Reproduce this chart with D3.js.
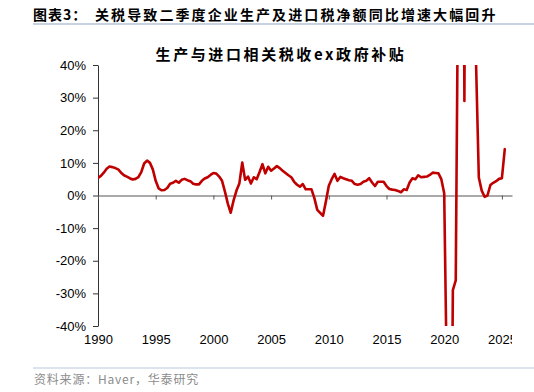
<!DOCTYPE html>
<html><head><meta charset="utf-8">
<script src="https://cdn.jsdelivr.net/npm/d3@7"></script>
<style>body{margin:0;background:#fff}</style>
</head><body><svg id="c" width="534" height="392"></svg>
<script>
const headerLabel = "图表3：";
const headerText = "关税导致二季度企业生产及进口税净额同比增速大幅回升";
const chartTitle = "生产与进口相关税收ex政府补贴";
const sourceText = "资料来源：Haver，华泰研究";
const startYear = 1990;
// quarterly YoY %, 1990Q1 .. 2025Q2
const values = [
  5.4, 6.0, 7.0, 8.2,
  8.9, 8.7, 8.4, 8.0,
  7.0, 6.2, 5.8, 5.3,
  4.9, 5.1, 5.6, 7.2,
  9.8, 10.7, 10.0, 8.0,
  4.5, 2.2, 1.6, 1.7,
  2.3, 3.6, 3.9, 4.5,
  3.9, 4.8, 5.1, 4.7,
  4.4, 3.6, 3.4, 3.4,
  4.5, 5.2, 5.6, 6.3,
  6.9, 6.7, 5.8, 4.5,
  1.2, -2.5, -5.3, -1.5,
  1.5, 3.7, 10.1, 4.8,
  5.8, 3.7, 5.6, 5.0,
  7.2, 9.6, 6.8, 8.8,
  7.6, 8.3, 9.0, 8.4,
  7.6, 6.9, 6.2, 5.6,
  4.2, 3.3, 2.7, 3.5,
  1.9, 1.9, 1.9, -0.8,
  -4.4, -5.3, -6.2, -1.8,
  3.0, 5.0, 6.6, 4.5,
  5.7, 5.3, 5.0, 4.7,
  4.5, 3.5, 3.3, 3.5,
  4.2, 4.5, 5.3, 4.0,
  2.9, 4.2, 4.2, 4.2,
  2.9, 2.0, 1.8, 1.7,
  1.4, 1.0, 1.9, 1.7,
  4.0, 5.3, 5.0, 6.2,
  5.6, 5.7, 5.8, 6.3,
  7.0, 6.9, 6.8, 5.0,
  0.7, -62, -150, -29,
  -26, 90, 250, 29,
  250, 150, 120, 42,
  5.5, 1.5, -0.4, 0.0,
  3.2, 3.9, 4.4, 5.1,
  5.3, 14.2
];
const xTickYears = [1990, 1995, 2000, 2005, 2010, 2015, 2020, 2025];
const yTickValues = [-40, -30, -20, -10, 0, 10, 20, 30, 40];

const svg = d3.select("#c");
const W = 534, H = 392;
const plot = {left: 98, right: 512, top: 65, bottom: 326};
const x = d3.scaleLinear().domain([1990, 2025.875]).range([plot.left, plot.right]);
const y = d3.scaleLinear().domain([-40, 40]).range([plot.bottom, plot.top]);
const numFont = "'Liberation Sans', Arial, sans-serif";
const cjkFont = "'Noto Sans CJK SC', sans-serif";

svg.append("rect").attr("width", W).attr("height", H).attr("fill", "#fff");

// header
const hdr = svg.append("text").attr("y", 20).attr("font-family", cjkFont)
  .attr("font-weight", "bold").attr("font-size", 14).attr("fill", "#000");
hdr.append("tspan").attr("x", 33).attr("letter-spacing", 1).text(headerLabel);
hdr.append("tspan").attr("x", 95).attr("letter-spacing", 2.1).text(headerText);
svg.append("line").attr("x1", 33).attr("x2", W).attr("y1", 24).attr("y2", 24)
  .attr("stroke", "#b3c3d5").attr("stroke-width", 1.5);

// chart title
svg.append("text").attr("x", 281).attr("y", 60).attr("text-anchor", "middle")
  .attr("font-family", cjkFont).attr("font-weight", "bold").attr("font-size", 15)
  .attr("letter-spacing", 2.6).attr("fill", "#000").text(chartTitle);

// clip
svg.append("clipPath").attr("id", "pc").append("rect")
  .attr("x", plot.left).attr("y", plot.top)
  .attr("width", plot.right - plot.left).attr("height", plot.bottom - plot.top);
svg.append("clipPath").attr("id", "lc").append("rect")
  .attr("x", 0).attr("y", 0).attr("width", plot.right).attr("height", H);

// y axis
const yAxis = svg.append("g").attr("transform", `translate(${plot.left},0)`)
  .call(d3.axisLeft(y).tickValues(yTickValues).tickSize(5).tickSizeOuter(0).tickPadding(7)
    .tickFormat(d => d + "%"));
yAxis.selectAll("text").attr("font-family", numFont).attr("font-size", 13).attr("fill", "#000");
yAxis.selectAll("line,path").attr("stroke", "#333");

// x axis ticks at zero
const xAxis0 = svg.append("g").attr("transform", `translate(0,${y(0)})`)
  .call(d3.axisBottom(x).tickValues(xTickYears).tickSize(4).tickSizeOuter(0).tickFormat(""));
xAxis0.selectAll("line,path").attr("stroke", "#555");

// x labels at bottom
const xLab = svg.append("g").attr("transform", `translate(0,${plot.bottom})`)
  .attr("clip-path", "url(#lc)")
  .call(d3.axisBottom(x).tickValues(xTickYears).tickSize(0).tickPadding(9).tickFormat(d3.format("d")));
xLab.select(".domain").remove();
xLab.selectAll("text").attr("font-family", numFont).attr("font-size", 13).attr("fill", "#000");

// line
const pts = values.map((v, i) => ({t: startYear + i / 4, v}));
svg.append("path").datum(pts).attr("clip-path", "url(#pc)")
  .attr("fill", "none").attr("stroke", "#c00000").attr("stroke-width", 2.6)
  .attr("stroke-linejoin", "round").attr("stroke-linecap", "round")
  .attr("d", d3.line().x(d => x(d.t)).y(d => y(d.v)));

// footer
svg.append("line").attr("x1", 33).attr("x2", W).attr("y1", 368).attr("y2", 368)
  .attr("stroke", "#b8c8da").attr("stroke-width", 1.2);
svg.append("text").attr("x", 34).attr("y", 384).attr("font-family", cjkFont)
  .attr("font-size", 12).attr("fill", "#8c8c8c").attr("letter-spacing", 0.8).text(sourceText);
</script></body></html>
